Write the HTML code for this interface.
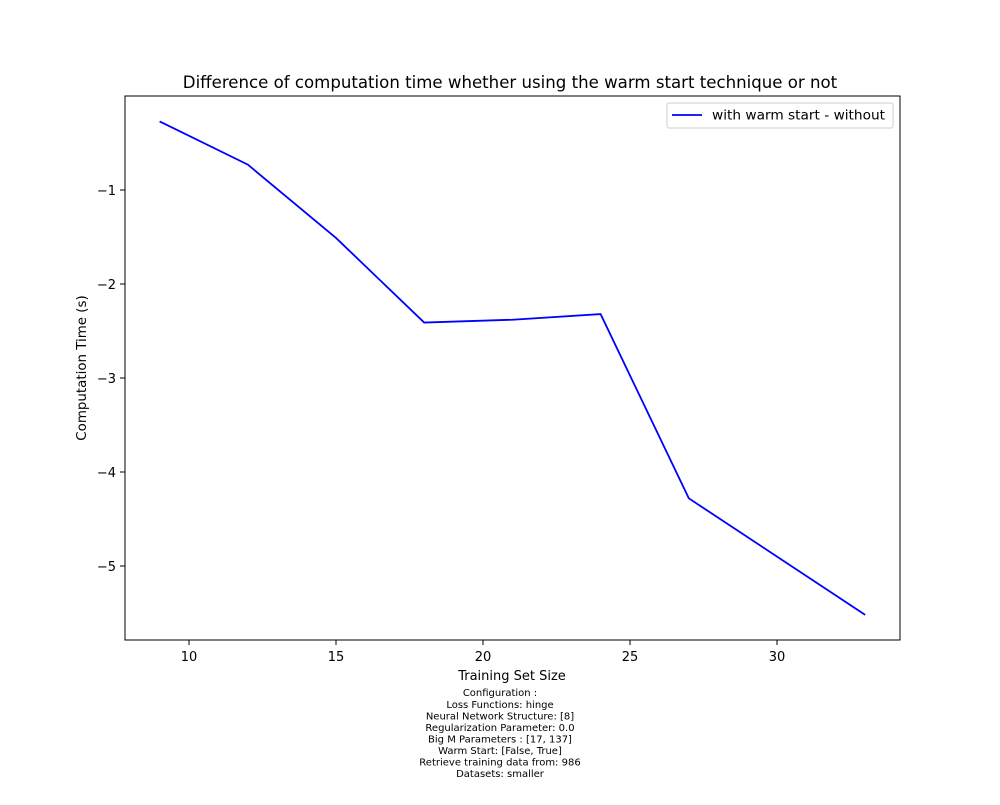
<!DOCTYPE html>
<html><head><meta charset="utf-8"><style>
body{margin:0;background:#fff;font-family:"Liberation Sans","DejaVu Sans",sans-serif}
</style></head><body>
<svg width="1000" height="800" xmlns="http://www.w3.org/2000/svg" font-family="DejaVu Sans, Liberation Sans, sans-serif">
<rect width="1000" height="800" fill="#fff"/>
<text x="510" y="88" text-anchor="middle" font-size="16.6">Difference of computation time whether using the warm start technique or not</text>
<g id="plot"></g>
<rect x="125" y="96" width="775" height="544" fill="none" stroke="#000" stroke-width="1"/>
<text x="512" y="680" text-anchor="middle" font-size="13">Training Set Size</text>
<text transform="translate(86,368) rotate(-90)" text-anchor="middle" font-size="13.4">Computation Time (s)</text>
<g>
<rect x="667" y="103" width="226" height="25" fill="#fff" stroke="#ccc" rx="2"/>
<line x1="672" y1="115" x2="702" y2="115" stroke="#0000ff" stroke-width="1.8"/>
<text x="712" y="119.5" font-size="13.7">with warm start - without</text>
</g>
<g font-size="10" text-anchor="middle">
<text x="500" y="696">Configuration :</text>
<text x="500" y="708">Loss Functions: hinge</text>
<text x="500" y="719.5">Neural Network Structure: [8]</text>
<text x="500" y="731">Regularization Parameter: 0.0</text>
<text x="500" y="742.5">Big M Parameters : [17, 137]</text>
<text x="500" y="754">Warm Start: [False, True]</text>
<text x="500" y="765.5">Retrieve training data from: 986</text>
<text x="500" y="777">Datasets: smaller</text>
</g>
</svg>
<script>
const xValues=[9,12,15,18,21,24,27,33];
const yValues=[-0.27,-0.73,-1.51,-2.41,-2.38,-2.32,-4.28,-5.52];
const xTicks=[10,15,20,25,30];
const yTicks=[-1,-2,-3,-4,-5];
const NS="http://www.w3.org/2000/svg";
const sx=v=>189+(v-10)*29.4;
const sy=v=>96-v*94;
const g=document.getElementById('plot');
function mk(t,a){const e=document.createElementNS(NS,t);for(const k in a)e.setAttribute(k,a[k]);g.appendChild(e);return e;}
xTicks.forEach(t=>{
 const l=mk('line',{x1:sx(t),x2:sx(t),y1:640,y2:645,stroke:'#000'});
 
 
 const tx=mk('text',{x:sx(t),y:661,'text-anchor':'middle','font-size':13});tx.textContent=t;
 
 
});
yTicks.forEach(t=>{
 const l=mk('line',{x1:120,x2:125,y1:sy(t),y2:sy(t),stroke:'#000'});
 
 
 const tx=mk('text',{x:116,y:sy(t)+5,'text-anchor':'end','font-size':13});tx.textContent='\u2212'+Math.abs(t);
 
 
});
const p=mk('polyline',{points:xValues.map((x,i)=>sx(x)+','+sy(yValues[i])).join(' '),fill:'none',stroke:'#0000ff','stroke-width':1.8});


</script>
</body></html>
